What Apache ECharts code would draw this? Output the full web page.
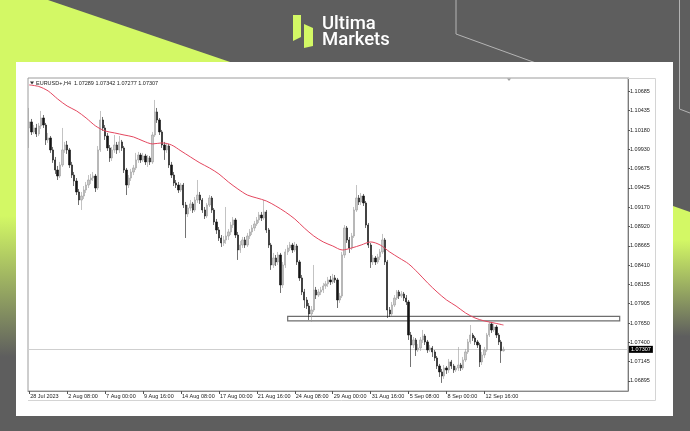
<!DOCTYPE html>
<html>
<head>
<meta charset="utf-8">
<script src="https://cdn.jsdelivr.net/npm/echarts@6/dist/echarts.min.js"></script>
<style>html,body{margin:0;padding:0;background:#5e5e5e;}#chart{width:690px;height:431px;}</style>
</head>
<body>
<div id="chart"></div>
<script>
// ---- data (EURUSD+, H4) ----
const symbolName = 'EURUSD+,H4';
const xTickLabels = ['28 Jul 2023','2 Aug 08:00','7 Aug 00:00','9 Aug 16:00','14 Aug 08:00','17 Aug 00:00','21 Aug 16:00','24 Aug 08:00','29 Aug 00:00','31 Aug 16:00','5 Sep 08:00','8 Sep 00:00','12 Sep 16:00'];
const yTickLabels = ['1.10685','1.10435','1.10180','1.09930','1.09675','1.09425','1.09170','1.08920','1.08665','1.08410','1.08155','1.07905','1.07650','1.07400','1.07145','1.06895'];
const barsPerLabel = 16;
const totalSlots = 253;

const opens = [1.10209,1.10288,1.10157,1.10209,1.10131,1.10235,1.10340,1.10248,1.10052,1.10078,
1.09921,1.09790,1.09658,1.09579,1.09724,1.09921,1.09986,1.09921,1.09724,1.09592,
1.09514,1.09370,1.09265,1.09317,1.09396,1.09461,1.09527,1.09553,1.09579,1.09422,
1.09921,1.10314,1.10209,1.10104,1.09947,1.09816,1.09921,1.09986,1.09921,1.10026,
1.09947,1.09658,1.09461,1.09553,1.09632,1.09685,1.09790,1.09855,1.09790,1.09842,
1.09764,1.09816,1.09764,1.10117,1.10419,1.10314,1.10157,1.09986,1.09921,1.09973,
1.09724,1.09592,1.09488,1.09461,1.09396,1.09461,1.09199,1.09082,1.09160,1.09213,
1.09134,1.09265,1.09330,1.09265,1.09134,1.09055,1.09199,1.09291,1.09134,1.08977,
1.08872,1.08767,1.08702,1.08741,1.08793,1.08846,1.08937,1.09003,1.08806,1.08610,
1.08675,1.08741,1.08675,1.08793,1.08846,1.08898,1.08951,1.09003,1.09068,1.09029,
1.09108,1.08872,1.08675,1.08413,1.08505,1.08453,1.08544,1.08151,1.08413,1.08584,
1.08636,1.08675,1.08610,1.08662,1.08453,1.08243,1.08059,1.07954,1.07875,1.07771,
1.07823,1.08085,1.08019,1.08059,1.08085,1.08138,1.08165,1.08217,1.08191,1.08243,
1.08217,1.07954,1.08006,1.08544,1.08898,1.08741,1.08636,1.08793,1.09134,1.09291,
1.09239,1.09317,1.09226,1.08937,1.08675,1.08453,1.08505,1.08453,1.08518,1.08584,
1.08741,1.08453,1.07823,1.07771,1.07888,1.07980,1.08059,1.08006,1.08033,1.07980,
1.07928,1.07495,1.07364,1.07430,1.07299,1.07325,1.07430,1.07482,1.07404,1.07299,
1.07325,1.07273,1.07194,1.07089,1.07011,1.06958,1.07063,1.07037,1.07142,1.07089,
1.07037,1.07063,1.07102,1.07063,1.07168,1.07273,1.07404,1.07495,1.07456,1.07404,
1.07364,1.07142,1.07233,1.07299,1.07495,1.07640,1.07561,1.07600,1.07495,1.07404,
1.07289];

const closes = [1.10288,1.10157,1.10209,1.10131,1.10235,1.10340,1.10248,1.10052,1.10078,1.09921,
1.09790,1.09658,1.09579,1.09724,1.09921,1.09986,1.09921,1.09724,1.09592,1.09514,
1.09370,1.09265,1.09317,1.09396,1.09461,1.09527,1.09553,1.09579,1.09422,1.09921,
1.10314,1.10209,1.10104,1.09947,1.09816,1.09921,1.09986,1.09921,1.10026,1.09947,
1.09658,1.09461,1.09553,1.09632,1.09685,1.09790,1.09855,1.09790,1.09842,1.09764,
1.09816,1.09764,1.10117,1.10419,1.10314,1.10157,1.09986,1.09921,1.09973,1.09724,
1.09592,1.09488,1.09461,1.09396,1.09461,1.09199,1.09082,1.09160,1.09213,1.09134,
1.09265,1.09330,1.09265,1.09134,1.09055,1.09199,1.09291,1.09134,1.08977,1.08872,
1.08767,1.08702,1.08741,1.08793,1.08846,1.08937,1.09003,1.08806,1.08610,1.08675,
1.08741,1.08675,1.08793,1.08846,1.08898,1.08951,1.09003,1.09068,1.09029,1.09108,
1.08872,1.08675,1.08413,1.08505,1.08453,1.08544,1.08151,1.08413,1.08584,1.08636,
1.08675,1.08610,1.08662,1.08453,1.08243,1.08059,1.07954,1.07875,1.07771,1.07823,
1.08085,1.08019,1.08059,1.08085,1.08138,1.08165,1.08217,1.08191,1.08243,1.08217,
1.07954,1.08006,1.08544,1.08898,1.08741,1.08636,1.08793,1.09134,1.09291,1.09239,
1.09317,1.09226,1.08937,1.08675,1.08453,1.08505,1.08453,1.08518,1.08584,1.08741,
1.08453,1.07823,1.07771,1.07888,1.07980,1.08059,1.08006,1.08033,1.07980,1.07928,
1.07495,1.07364,1.07430,1.07299,1.07325,1.07430,1.07482,1.07404,1.07299,1.07325,
1.07273,1.07194,1.07089,1.07011,1.06958,1.07063,1.07037,1.07142,1.07089,1.07037,
1.07063,1.07102,1.07063,1.07168,1.07273,1.07404,1.07495,1.07456,1.07404,1.07364,
1.07142,1.07233,1.07299,1.07495,1.07640,1.07561,1.07600,1.07495,1.07404,1.07289,
1.07307];

const highs = [1.10471,1.10327,1.10248,1.10262,1.10275,1.10432,1.10379,1.10275,1.10144,1.10104,
1.09960,1.09829,1.09711,1.09764,1.10209,1.10026,1.10039,1.09947,1.09764,1.09632,
1.09553,1.09409,1.09370,1.09448,1.09501,1.09592,1.09606,1.09632,1.09606,1.09973,
1.10432,1.10353,1.10248,1.10144,1.09986,1.09960,1.10117,1.10026,1.10104,1.10052,
1.09973,1.09685,1.09592,1.09672,1.09724,1.09882,1.09895,1.09882,1.09882,1.09869,
1.09855,1.09842,1.10157,1.10576,1.10471,1.10340,1.10183,1.10026,1.10013,1.10000,
1.09764,1.09632,1.09527,1.09501,1.09488,1.09488,1.09239,1.09199,1.09265,1.09239,
1.09304,1.09527,1.09370,1.09291,1.09173,1.09226,1.09330,1.09317,1.09160,1.09016,
1.08911,1.08806,1.08793,1.09173,1.08885,1.08977,1.09042,1.09029,1.08846,1.08728,
1.08780,1.08780,1.08833,1.08885,1.08937,1.08990,1.09042,1.09108,1.09108,1.09265,
1.09134,1.08898,1.08702,1.08571,1.08544,1.08584,1.08571,1.08453,1.08623,1.08675,
1.08715,1.08702,1.08715,1.08689,1.08479,1.08282,1.08099,1.07993,1.07915,1.07875,
1.08413,1.08125,1.08099,1.08125,1.08178,1.08204,1.08256,1.08269,1.08296,1.08282,
1.08243,1.08046,1.08584,1.08937,1.08924,1.08780,1.08833,1.09173,1.09461,1.09330,
1.09357,1.09344,1.09252,1.08964,1.08702,1.08544,1.08531,1.08558,1.08623,1.08820,
1.08767,1.08479,1.07862,1.07928,1.08019,1.08085,1.08085,1.08072,1.08059,1.08019,
1.07954,1.07535,1.07469,1.07456,1.07378,1.07469,1.07561,1.07509,1.07430,1.07364,
1.07351,1.07299,1.07220,1.07116,1.07050,1.07102,1.07089,1.07181,1.07168,1.07116,
1.07089,1.07338,1.07129,1.07207,1.07312,1.07443,1.07626,1.07522,1.07482,1.07430,
1.07391,1.07273,1.07338,1.07522,1.07666,1.07666,1.07640,1.07626,1.07522,1.07430,
1.07342];

const lows = [1.09947,1.10117,1.10131,1.10091,1.10104,1.10196,1.10209,1.09986,1.10013,1.09882,
1.09751,1.09606,1.09527,1.09553,1.09698,1.09882,1.09869,1.09685,1.09553,1.09448,
1.09330,1.09199,1.09134,1.09278,1.09357,1.09422,1.09475,1.09514,1.09370,1.09396,
1.09895,1.10170,1.10052,1.09908,1.09764,1.09777,1.09882,1.09869,1.09882,1.09908,
1.09619,1.09330,1.09422,1.09514,1.09592,1.09658,1.09751,1.09751,1.09764,1.09724,
1.09698,1.09724,1.09738,1.10091,1.10275,1.10117,1.09947,1.09790,1.09882,1.09685,
1.09553,1.09448,1.09422,1.09357,1.09370,1.09160,1.08767,1.09042,1.09121,1.09095,
1.09108,1.09226,1.09213,1.09095,1.09016,1.09029,1.09173,1.09095,1.08937,1.08820,
1.08728,1.08649,1.08662,1.08689,1.08741,1.08806,1.08898,1.08767,1.08479,1.08571,
1.08636,1.08636,1.08649,1.08754,1.08806,1.08859,1.08924,1.08964,1.08990,1.09003,
1.08833,1.08636,1.08348,1.08374,1.08400,1.08413,1.08046,1.08112,1.08374,1.08544,
1.08597,1.08571,1.08584,1.08413,1.08204,1.08019,1.07849,1.07836,1.07692,1.07666,
1.07797,1.07967,1.07993,1.08019,1.08046,1.08099,1.08125,1.08151,1.08165,1.08178,
1.07849,1.07915,1.07980,1.08505,1.08702,1.08571,1.08610,1.08767,1.09108,1.09199,
1.09199,1.09186,1.08898,1.08636,1.08374,1.08413,1.08413,1.08427,1.08479,1.08558,
1.08413,1.07718,1.07731,1.07744,1.07862,1.07954,1.07967,1.07980,1.07941,1.07888,
1.07430,1.07076,1.07325,1.07220,1.07273,1.07286,1.07391,1.07364,1.07260,1.07273,
1.07207,1.07155,1.07050,1.06945,1.06867,1.06919,1.06985,1.06998,1.07050,1.06998,
1.07011,1.07024,1.07024,1.07037,1.07142,1.07247,1.07378,1.07417,1.07364,1.07325,
1.07076,1.07102,1.07194,1.07273,1.07469,1.07522,1.07535,1.07456,1.07364,1.07129,
1.07277];

// moving average read at every 4th bar: [bar index, value]
const maPoints = [[0,1.10773],[4,1.10753],[8,1.10694],[12,1.10589],[16,1.10497],[20,1.10432],[24,1.10340],[28,1.10235],
[32,1.10170],[36,1.10144],[40,1.10117],[44,1.10091],[48,1.10039],[52,1.10000],[56,1.10013],[60,1.09986],
[64,1.09908],[68,1.09829],[72,1.09751],[76,1.09685],[80,1.09606],[84,1.09501],[88,1.09409],[92,1.09330],
[96,1.09291],[100,1.09252],[104,1.09186],[108,1.09108],[112,1.09016],[116,1.08898],[120,1.08793],[124,1.08715],
[128,1.08662],[132,1.08610],[136,1.08636],[140,1.08675],[144,1.08715],[148,1.08675],[152,1.08584],[156,1.08505],
[160,1.08427],[164,1.08309],[168,1.08178],[172,1.08059],[176,1.07954],[180,1.07875],[184,1.07784],[188,1.07718],
[192,1.07679],[196,1.07653],[200,1.07626]];

// support / resistance zone: [start bar, end bar], [upper price, lower price]
const zoneBars = [109, 249];
const zonePrices = [1.07738, 1.07679];
const yRange = [1.06761, 1.10864];

// ---- chart ----
const last = closes.length - 1;
const candleData = opens.map((o, i) => [o, closes[i], lows[i], highs[i]]);
const categories = Array.from({length: totalSlots}, (_, i) => String(i));
const showTick = (i) => i % barsPerLabel === 0 && (i / barsPerLabel) < xTickLabels.length;
const LIME = '#d3f865', BG = '#5e5e5e';
const axisFont = 'Liberation Sans, Arial, sans-serif';

const chart = echarts.init(document.getElementById('chart'), null, {renderer: 'canvas'});
chart.setOption({
  animation: false,
  backgroundColor: BG,
  grid: {left: 28, right: 62, top: 78, bottom: 40, show: true, backgroundColor: '#ffffff', borderColor: '#9c9c9c', borderWidth: 1},
  xAxis: {
    type: 'category', data: categories, boundaryGap: true,
    axisLine: {show: true, lineStyle: {color: '#8a8a8a', width: 1}},
    axisTick: {show: true, alignWithLabel: true, interval: showTick, length: 3, lineStyle: {color: '#555'}},
    axisLabel: {interval: showTick, formatter: (v, i) => xTickLabels[i / barsPerLabel] || '', align: 'left',
      fontSize: 5.5, fontFamily: axisFont, color: '#1a1a1a', margin: 2.5, padding: [0, 0, 0, 1]},
    splitLine: {show: false}
  },
  yAxis: {
    type: 'value', position: 'right', min: yRange[0], max: yRange[1], scale: true,
    axisLine: {show: true, lineStyle: {color: '#7a7a7a', width: 1}},
    axisTick: {show: true, length: 2, customValues: yTickLabels.map(Number), lineStyle: {color: '#555'}},
    axisLabel: {customValues: yTickLabels.map(Number), formatter: (v) => v.toFixed(5), fontSize: 5.5, fontFamily: axisFont, color: '#1a1a1a', margin: 2},
    splitLine: {show: false}
  },
  series: [
    {
      type: 'candlestick', name: symbolName, data: candleData, barWidth: 1.8, z: 3,
      itemStyle: {color: '#c8c8c8', color0: '#141414', borderColor: '#9a9a9a', borderColor0: '#141414', borderWidth: 0.6},
      markArea: {
        silent: true, z: 1,
        itemStyle: {color: 'rgba(255,255,255,0.55)', borderColor: '#6e6e6e', borderWidth: 1.2},
        data: [[{coord: [zoneBars[0], zonePrices[0]]}, {coord: [zoneBars[1], zonePrices[1]]}]]
      },
      markLine: {
        silent: true, symbol: ['none', 'none'], z: 1, precision: 5,
        lineStyle: {color: '#cfcfcf', width: 1, type: 'solid'},
        label: {show: true, position: 'end', formatter: (p) => Number(p.value).toFixed(5), color: '#ffffff', backgroundColor: '#000000',
          fontSize: 5.5, fontFamily: axisFont, padding: [1, 2, 0, 2], distance: 1},
        data: [{yAxis: closes[last]}]
      }
    },
    {
      type: 'line', name: 'MA', data: maPoints, showSymbol: false, smooth: 0.3, z: 4,
      lineStyle: {color: '#e4475f', width: 1}
    }
  ],
  graphic: {elements: [
    {type: 'polygon', z: -3, shape: {points: [[0,0],[48,0],[236,64],[0,64]]}, style: {fill: LIME}},
    {type: 'rect', z: -3, shape: {x: 0, y: 60, width: 16, height: 371},
      style: {fill: new echarts.graphic.LinearGradient(0, 0, 0, 1, [{offset: 0, color: LIME}, {offset: 0.42, color: LIME}, {offset: 0.8, color: BG}, {offset: 1, color: BG}])}},
    {type: 'polygon', z: -3, shape: {points: [[673,206],[690,212],[690,431],[673,431]]},
      style: {fill: new echarts.graphic.LinearGradient(0, 0, 0, 1, [{offset: 0, color: LIME}, {offset: 0.15, color: LIME}, {offset: 0.58, color: BG}, {offset: 1, color: BG}])}},
    {type: 'polyline', z: -2, shape: {points: [[456,0],[456,34],[536,63]]}, style: {stroke: '#b4b4b4', lineWidth: 1, fill: null}},
    {type: 'polyline', z: -2, shape: {points: [[679.5,0],[679.5,109],[690,113]]}, style: {stroke: '#b4b4b4', lineWidth: 1, fill: null}},
    {type: 'rect', z: -1, shape: {x: 16, y: 62, width: 657, height: 354}, style: {fill: '#ffffff'}},
    // logo
    {type: 'polygon', z: 10, shape: {points: [[293,15],[301,15],[301,37],[293,41]]}, style: {fill: LIME}},
    {type: 'polygon', z: 10, shape: {points: [[304,24],[313,28],[313,46],[304,48]]}, style: {fill: LIME}},
    {type: 'text', z: 10, style: {x: 322, y: 24.5, text: 'Ultima', fill: '#ffffff', font: '500 18.5px Roboto, sans-serif', verticalAlign: 'middle'}},
    {type: 'text', z: 10, style: {x: 322, y: 40.5, text: 'Markets', fill: '#ffffff', font: '500 18.5px Roboto, sans-serif', verticalAlign: 'middle'}},
    // outer terminal frame
    {type: 'polyline', z: 5, shape: {points: [[628,78.5],[655.5,78.5],[655.5,400.5],[28,400.5]]}, style: {stroke: '#d4d4d4', lineWidth: 1, fill: null}},
    // chart header
    {type: 'polygon', z: 10, shape: {points: [[30,81.5],[34,81.5],[32,84.5]]}, style: {fill: '#333333'}},
    {type: 'text', z: 10, style: {x: 36, y: 83.3, verticalAlign: 'middle', fill: '#1a1a1a', font: '5.5px Liberation Sans, Arial, sans-serif',
      text: symbolName + '  ' + [opens[last], highs[last], lows[last], closes[last]].map(v => v.toFixed(5)).join(' ')}},
    // chart shift marker
    {type: 'polygon', z: 10, shape: {points: [[507,78.5],[511,78.5],[509,81]]}, style: {fill: '#a0a0a0'}}
  ]}
});
</script>
</body>
</html>
